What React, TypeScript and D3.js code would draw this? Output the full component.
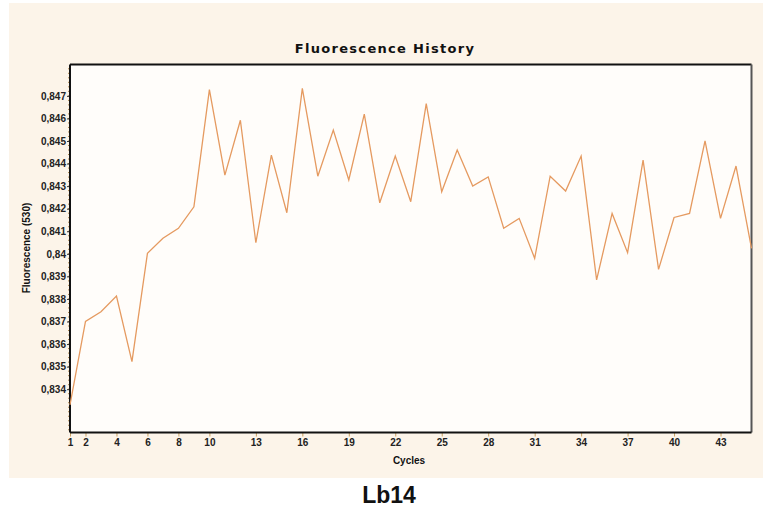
import React, { useEffect, useRef } from "react";
import * as d3 from "d3";

// Fluorescence readings (530 nm channel) per amplification cycle
const cycles: number[] = [
  1, 2, 3, 4, 5, 6, 7, 8, 9, 10, 11, 12, 13, 14, 15, 16, 17, 18, 19, 20, 21, 22,
  23, 24, 25, 26, 27, 28, 29, 30, 31, 32, 33, 34, 35, 36, 37, 38, 39, 40, 41, 42,
  43, 44, 45,
];
const fluorescence: number[] = [
  0.8333, 0.837, 0.83743, 0.83813, 0.83522, 0.84002, 0.84069, 0.84113, 0.84208,
  0.84728, 0.84349, 0.84592, 0.84049, 0.84437, 0.84182, 0.84733, 0.84344,
  0.84548, 0.84327, 0.84619, 0.84226, 0.84433, 0.84231, 0.84666, 0.84275,
  0.8446, 0.843, 0.84341, 0.84113, 0.84157, 0.8398, 0.84344, 0.84278, 0.84433,
  0.83884, 0.84179, 0.84005, 0.84415, 0.83931, 0.84161, 0.84179, 0.84501,
  0.84157, 0.84389, 0.84024,
];
const xTicks: number[] = [1, 2, 4, 6, 8, 10, 13, 16, 19, 22, 25, 28, 31, 34, 37, 40, 43];
const yTicks: number[] = [
  0.834, 0.835, 0.836, 0.837, 0.838, 0.839, 0.84, 0.841, 0.842, 0.843, 0.844,
  0.845, 0.846, 0.847,
];
const title = "Fluorescence History";
const xLabel = "Cycles";
const yLabel = "Fluorescence (530)";
const sampleName = "Lb14";

const W = 765;
const H = 509;
const plot = { left: 70, top: 64.5, right: 751.5, bottom: 432.5 };

export default function App() {
  const ref = useRef<SVGSVGElement | null>(null);

  useEffect(() => {
    const svg = d3.select(ref.current);
    svg.selectAll("*").remove();

    const x = d3.scaleLinear().domain([1, 45]).range([plot.left, plot.right]);
    const y = d3.scaleLinear().domain([0.83208, 0.84839]).range([plot.bottom, plot.top]);

    svg.append("rect").attr("width", W).attr("height", H).attr("fill", "#ffffff");
    svg
      .append("rect")
      .attr("x", 9)
      .attr("y", 3)
      .attr("width", 754)
      .attr("height", 475)
      .attr("fill", "#fcf4e9");
    svg
      .append("rect")
      .attr("x", plot.left)
      .attr("y", plot.top)
      .attr("width", plot.right - plot.left)
      .attr("height", plot.bottom - plot.top)
      .attr("fill", "#fffdfa");

    // Minor ticks along the fluorescence axis
    const minor = d3.range(0.8322, 0.8484, 0.0002);
    svg
      .append("g")
      .selectAll("line")
      .data(minor)
      .join("line")
      .attr("x1", plot.left - 2)
      .attr("x2", plot.left)
      .attr("y1", (d) => y(d))
      .attr("y2", (d) => y(d))
      .attr("stroke", "#b08a50")
      .attr("stroke-width", 1);

    const fmt = (v: number) => d3.format(".3f")(v).replace(/0+$/, "").replace(".", ",");

    const yAxis = d3
      .axisLeft(y)
      .tickValues(yTicks)
      .tickSize(3)
      .tickPadding(1)
      .tickFormat((d) => fmt(d as number));
    const gy = svg.append("g").attr("transform", `translate(${plot.left},0)`).call(yAxis);
    gy.select(".domain").remove();
    gy.selectAll("line").attr("stroke", "#333");
    gy.selectAll("text")
      .attr("font-family", "'Liberation Sans', Arial, sans-serif")
      .attr("font-size", 10)
      .attr("font-weight", "bold")
      .attr("fill", "#222");

    const xAxis = d3
      .axisBottom(x)
      .tickValues(xTicks)
      .tickSize(4)
      .tickPadding(2)
      .tickFormat((d) => String(d));
    const gx = svg.append("g").attr("transform", `translate(0,${plot.bottom})`).call(xAxis);
    gx.select(".domain").remove();
    gx.selectAll("line").attr("stroke", "#c9a060");
    gx.selectAll("text")
      .attr("font-family", "'Liberation Sans', Arial, sans-serif")
      .attr("font-size", 10)
      .attr("font-weight", "bold")
      .attr("fill", "#222");

    // Frame
    const frame = [
      { x1: plot.left, x2: plot.right, y1: plot.top, y2: plot.top, c: "#111" },
      { x1: plot.right, x2: plot.right, y1: plot.top, y2: plot.bottom, c: "#555" },
      { x1: plot.left, x2: plot.right, y1: plot.bottom, y2: plot.bottom, c: "#111" },
      { x1: plot.left, x2: plot.left, y1: plot.top, y2: plot.bottom, c: "#111" },
    ];
    svg
      .append("g")
      .selectAll("line")
      .data(frame)
      .join("line")
      .attr("x1", (d) => d.x1)
      .attr("x2", (d) => d.x2)
      .attr("y1", (d) => d.y1)
      .attr("y2", (d) => d.y2)
      .attr("stroke", (d) => d.c)
      .attr("stroke-width", 2);

    // Fluorescence curve
    const line = d3
      .line<number>()
      .x((_, i) => x(cycles[i]))
      .y((d) => y(d));
    svg
      .append("path")
      .datum(fluorescence)
      .attr("d", line)
      .attr("fill", "none")
      .attr("stroke", "#e59a60")
      .attr("stroke-width", 1.3)
      .attr("stroke-linejoin", "miter");

    svg
      .append("text")
      .attr("x", 385)
      .attr("y", 53)
      .attr("text-anchor", "middle")
      .attr("font-family", "Verdana, 'DejaVu Sans', sans-serif")
      .attr("font-size", 13)
      .attr("font-weight", "bold")
      .attr("letter-spacing", 1.3)
      .attr("fill", "#111")
      .text(title);

    svg
      .append("text")
      .attr("x", 409)
      .attr("y", 464)
      .attr("text-anchor", "middle")
      .attr("font-family", "'Liberation Sans', Arial, sans-serif")
      .attr("font-size", 10)
      .attr("font-weight", "bold")
      .attr("fill", "#111")
      .text(xLabel);

    svg
      .append("text")
      .attr("transform", `translate(30,248) rotate(-90)`)
      .attr("text-anchor", "middle")
      .attr("font-family", "'Liberation Sans', Arial, sans-serif")
      .attr("font-size", 10)
      .attr("font-weight", "bold")
      .attr("fill", "#111")
      .text(yLabel);

    svg
      .append("text")
      .attr("x", 389)
      .attr("y", 503)
      .attr("text-anchor", "middle")
      .attr("font-family", "'Liberation Sans', Arial, sans-serif")
      .attr("font-size", 23)
      .attr("font-weight", "bold")
      .attr("fill", "#111")
      .text(sampleName);
  }, []);

  return (
    <svg
      ref={ref}
      width={W}
      height={H}
      style={{ position: "absolute", left: 0, top: 0, display: "block" }}
    />
  );
}
